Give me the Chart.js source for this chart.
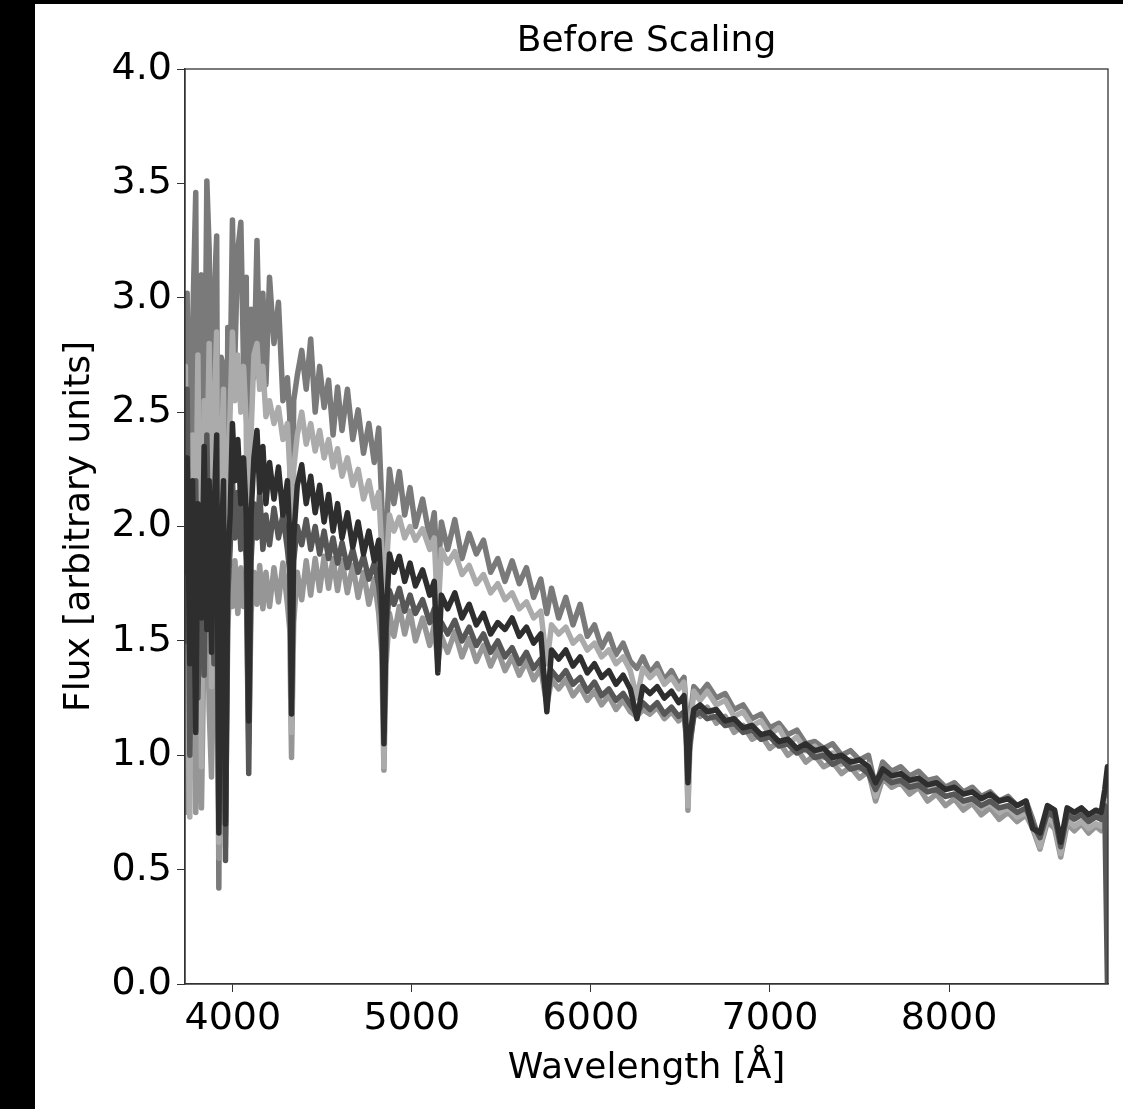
<!DOCTYPE html>
<html>
<head>
<meta charset="utf-8">
<script src="https://cdn.jsdelivr.net/npm/chart.js"></script>
<style>
  html, body { margin: 0; padding: 0; background: #000; }
  #frame { position: absolute; left: 35px; top: 4px; width: 1088px; height: 1105px; background: #fff; }
  canvas { display: block; }
</style>
</head>
<body>
<div id="frame"><canvas id="spectra" width="1088" height="1105"></canvas></div>
<script>
// wavelength grid (Angstrom), shared by all spectra
const wavelength = [
  3735, 3745, 3760, 3775, 3793, 3805, 3825, 3840, 3855, 3868,
  3881, 3895, 3910, 3922, 3935, 3948, 3959, 3972, 3985, 3998,
  4012, 4028, 4045, 4060, 4075, 4089, 4102, 4118, 4135, 4150,
  4168, 4185,
  4205, 4230, 4255, 4280, 4305, 4318, 4328, 4340, 4360, 4385,
  4410, 4435, 4460, 4485, 4510, 4535, 4560, 4585, 4610, 4640,
  4670, 4700, 4730, 4760, 4790, 4815, 4832, 4844, 4856, 4875,
  4900, 4930, 4960, 4990,
  5020, 5060, 5100, 5125, 5145, 5165, 5200, 5240, 5280, 5320,
  5360, 5400, 5440, 5480, 5520, 5560, 5600, 5640, 5680, 5720,
  5754, 5780, 5820, 5860, 5900, 5940, 5980, 6020, 6060, 6100,
  6140, 6180, 6220, 6257, 6290, 6330, 6370, 6410, 6450, 6490,
  6520,
  6532, 6542, 6552, 6575, 6610, 6650, 6700, 6750, 6800, 6850,
  6900, 6950, 7000, 7050, 7100, 7150, 7200, 7250, 7300, 7350,
  7400, 7450, 7500, 7550, 7590, 7630, 7680, 7730, 7780, 7830,
  7880, 7930, 7980, 8030, 8080, 8130, 8180, 8230, 8280, 8330,
  8380, 8430, 8467, 8508, 8550, 8590, 8624, 8660, 8700, 8740,
  8780, 8820, 8850, 8870, 8885
];

// spectrum 1 (mid grey, brightest in the blue)
const fluxA = [
  2.30, 3.02, 1.35, 2.85, 3.46, 1.55, 3.10, 2.20, 3.51, 3.21,
  1.70, 3.00, 3.27, 0.42, 2.74, 2.70, 0.95, 2.87, 2.60, 3.34,
  2.75, 3.21, 3.33, 2.70, 3.09, 1.40, 2.95, 2.65, 3.25, 2.70,
  3.02, 2.62,
  3.09, 2.80, 2.98, 2.55, 2.65, 2.48, 1.30, 2.55, 2.66, 2.77,
  2.60, 2.82, 2.50, 2.70, 2.52, 2.64, 2.40, 2.61, 2.42, 2.60,
  2.38, 2.51, 2.32, 2.45, 2.28, 2.43, 2.10, 1.05, 1.95, 2.25,
  2.10, 2.24, 2.05, 2.17,
  2.00, 2.12, 1.95, 2.06, 1.78, 2.02, 1.90, 2.03, 1.86, 1.97,
  1.88, 1.94, 1.80, 1.86, 1.76, 1.85, 1.75, 1.82, 1.69, 1.77,
  1.62, 1.73, 1.60, 1.69, 1.57, 1.66, 1.52, 1.57, 1.47, 1.53,
  1.44, 1.49, 1.41, 1.38, 1.43, 1.36, 1.40, 1.33, 1.37, 1.31,
  1.34,
  1.20, 0.85, 1.15, 1.30, 1.27, 1.31, 1.25, 1.27, 1.20, 1.22,
  1.16, 1.18, 1.12, 1.14, 1.09, 1.11, 1.05, 1.06, 1.03, 1.05,
  1.00, 1.02, 0.98, 1.00, 0.86, 0.97, 0.93, 0.95, 0.91, 0.93,
  0.89, 0.90, 0.86, 0.88, 0.84, 0.86, 0.82, 0.84, 0.80, 0.82,
  0.78, 0.80, 0.72, 0.62, 0.77, 0.74, 0.58, 0.76, 0.73, 0.75,
  0.72, 0.74, 0.72, 0.80, 0.90
];

// spectrum 2 (light grey)
const fluxB = [
  2.70, 1.30, 0.73, 2.40, 1.90, 2.75, 0.95, 2.55, 2.20, 2.80,
  1.30, 2.50, 2.85, 0.62, 2.30, 2.60, 0.60, 2.20, 2.50, 2.85,
  2.55, 2.75, 2.50, 2.70, 2.45, 1.10, 2.40, 2.75, 2.80, 2.60,
  2.70, 2.48,
  2.55, 2.45, 2.52, 2.38, 2.45, 2.25, 1.10, 2.25, 2.40, 2.50,
  2.36, 2.45, 2.33, 2.42, 2.30, 2.38, 2.26, 2.34, 2.22, 2.30,
  2.18, 2.25, 2.12, 2.20, 2.08, 2.15, 1.90, 0.95, 1.80, 2.05,
  1.98, 2.04, 1.95, 2.00,
  1.94, 1.99, 1.90, 1.95, 1.60, 1.90, 1.84, 1.89, 1.79, 1.83,
  1.75, 1.79, 1.71, 1.75, 1.68, 1.71, 1.64, 1.67, 1.60, 1.63,
  1.40, 1.57, 1.53, 1.56, 1.49, 1.52, 1.46, 1.49, 1.43, 1.46,
  1.40, 1.43, 1.37, 1.25, 1.38, 1.34, 1.37, 1.31, 1.34, 1.29,
  1.32,
  1.18, 0.78, 1.10, 1.28, 1.24, 1.28, 1.22, 1.24, 1.17, 1.19,
  1.13, 1.15, 1.09, 1.12, 1.05, 1.08, 1.02, 1.04, 0.99, 1.01,
  0.96, 0.98, 0.94, 0.96, 0.82, 0.93, 0.89, 0.91, 0.87, 0.88,
  0.84, 0.86, 0.82, 0.83, 0.79, 0.81, 0.77, 0.79, 0.75, 0.77,
  0.73, 0.75, 0.70, 0.60, 0.73, 0.70, 0.57, 0.72, 0.69, 0.71,
  0.68, 0.70, 0.69, 0.74, 0.80
];

// spectrum 3 (near black)
const fluxC = [
  1.80, 2.30, 1.40, 2.20, 1.10, 2.10, 1.60, 2.35, 1.55, 2.20,
  1.45, 2.05, 2.40, 0.66, 1.90, 2.20, 0.70, 1.85, 2.05, 2.45,
  2.20, 2.38, 2.10, 2.30, 2.05, 1.15, 2.05, 2.30, 2.42, 2.15,
  2.35, 2.10,
  2.28, 2.12, 2.26, 2.05, 2.20, 1.95, 1.18, 1.95, 2.18, 2.27,
  2.10, 2.22, 2.06, 2.18, 2.02, 2.14, 1.98, 2.10, 1.95, 2.06,
  1.91, 2.02, 1.88, 1.98, 1.85, 1.94, 1.70, 1.05, 1.60, 1.88,
  1.80, 1.87, 1.76, 1.84,
  1.74, 1.81, 1.70, 1.76, 1.36, 1.70, 1.64, 1.71, 1.60, 1.66,
  1.57, 1.62, 1.53, 1.58, 1.55, 1.60, 1.52, 1.56, 1.49, 1.53,
  1.19, 1.46, 1.42, 1.46, 1.39, 1.43, 1.36, 1.40, 1.34, 1.37,
  1.31, 1.35, 1.29, 1.16, 1.30, 1.27, 1.30, 1.25, 1.28, 1.23,
  1.26,
  1.12, 0.88, 1.08, 1.20, 1.22, 1.19, 1.20, 1.15, 1.16, 1.12,
  1.13, 1.09, 1.10, 1.06, 1.07, 1.03, 1.05, 1.02, 1.03, 0.99,
  1.00, 0.97, 0.98, 0.95, 0.88, 0.94, 0.91, 0.92, 0.89, 0.90,
  0.87, 0.88, 0.85, 0.86, 0.83, 0.84, 0.81, 0.83, 0.80, 0.81,
  0.78, 0.80, 0.68, 0.66, 0.78, 0.76, 0.62, 0.77, 0.75, 0.77,
  0.74, 0.76, 0.75, 0.85, 0.95
];

// spectrum 4 (dark grey)
const fluxD = [
  1.50, 2.60, 1.00, 1.80, 2.20, 1.25, 2.00, 1.35, 2.40, 1.70,
  1.95, 1.40, 2.10, 0.70, 1.65, 1.95, 0.54, 1.70, 1.90, 2.20,
  1.95, 2.15, 1.90, 2.10, 1.85, 0.92, 1.85, 2.10, 1.95, 2.15,
  1.90, 2.05,
  1.92, 2.08, 1.95, 2.05, 1.90, 1.80, 1.25, 1.85, 2.00, 1.92,
  2.03, 1.90, 2.00, 1.88, 1.98, 1.86, 1.95, 1.84, 1.93, 1.82,
  1.90, 1.80, 1.87, 1.77, 1.84, 1.74, 1.60, 1.10, 1.55, 1.72,
  1.66, 1.73, 1.63, 1.70,
  1.62, 1.68, 1.58, 1.64, 1.45, 1.58, 1.53, 1.59, 1.50, 1.56,
  1.48, 1.53, 1.45, 1.50, 1.43, 1.47, 1.40, 1.45, 1.38, 1.42,
  1.25, 1.37, 1.33, 1.37, 1.31, 1.34, 1.28, 1.32, 1.26, 1.29,
  1.24, 1.27, 1.22, 1.18, 1.23, 1.20, 1.23, 1.18, 1.21, 1.17,
  1.19,
  1.10, 0.90, 1.05, 1.17, 1.19, 1.16, 1.17, 1.13, 1.14, 1.10,
  1.11, 1.07, 1.08, 1.04, 1.05, 1.01, 1.03, 0.99, 1.00, 0.96,
  0.98, 0.94, 0.95, 0.92, 0.85, 0.91, 0.88, 0.89, 0.86, 0.87,
  0.84, 0.85, 0.82, 0.83, 0.80, 0.81, 0.78, 0.80, 0.77, 0.78,
  0.75, 0.77, 0.70, 0.64, 0.75, 0.73, 0.60, 0.74, 0.72, 0.74,
  0.71, 0.73, 0.72, 0.78, 0.00
];

// spectrum 5 (grey, flattest in the blue)
const fluxE = [
  0.75, 1.80, 0.90, 1.60, 0.75, 1.70, 0.77, 1.55, 1.85, 1.20,
  0.905, 1.50, 1.75, 0.55, 1.45, 1.70, 0.65, 1.55, 1.80, 1.65,
  1.85, 1.62, 1.82, 1.65, 1.80, 1.05, 1.62, 1.80, 1.66, 1.83,
  1.64, 1.80,
  1.65, 1.82, 1.67, 1.84, 1.66, 1.55, 0.99, 1.58, 1.80, 1.68,
  1.85, 1.70, 1.86, 1.72, 1.87, 1.73, 1.86, 1.72, 1.85, 1.71,
  1.83, 1.69, 1.80, 1.66, 1.77, 1.62, 1.45, 0.935, 1.40, 1.62,
  1.52, 1.65, 1.53, 1.63,
  1.50, 1.60, 1.48, 1.57, 1.40, 1.52, 1.45, 1.54, 1.43, 1.51,
  1.41, 1.48, 1.39, 1.46, 1.37, 1.43, 1.35, 1.41, 1.33, 1.38,
  1.22, 1.33, 1.29, 1.33, 1.26, 1.30, 1.24, 1.28, 1.22, 1.26,
  1.20, 1.24, 1.19, 1.17, 1.20, 1.18, 1.21, 1.16, 1.19, 1.15,
  1.18,
  1.08, 0.76, 1.02, 1.20, 1.17, 1.21, 1.14, 1.17, 1.10, 1.13,
  1.07, 1.09, 1.03, 1.06, 1.00, 1.03, 0.97, 1.00, 0.95, 0.97,
  0.92, 0.95, 0.90, 0.93, 0.80, 0.90, 0.86, 0.88, 0.83, 0.86,
  0.80, 0.83, 0.78, 0.81, 0.76, 0.79, 0.74, 0.77, 0.72, 0.75,
  0.71, 0.74, 0.68, 0.59, 0.71, 0.68, 0.555, 0.70, 0.67, 0.70,
  0.66, 0.69, 0.67, 0.72, 0.76
];

const xTicks = [4000, 5000, 6000, 7000, 8000];
const yTicks = [0, 0.5, 1, 1.5, 2, 2.5, 3, 3.5, 4];
const titleText = 'Before Scaling';

const FONT = 'DejaVu Sans';

function series(flux, color) {
  return {
    data: wavelength.map((w, i) => ({ x: w, y: flux[i] })),
    borderColor: color,
    borderWidth: 5.5,
    borderJoinStyle: 'round',
    borderCapStyle: 'round',
    pointRadius: 0,
    tension: 0,
    fill: false
  };
}

// spines on all four sides, title centred over the plot box
const boxPlugin = {
  id: 'box',
  afterDatasetsDraw(chart) {
    const { ctx, chartArea: a } = chart;
    ctx.save();
    ctx.strokeStyle = '#333';
    ctx.lineWidth = 1.3;
    ctx.strokeRect(a.left, a.top, a.right - a.left, a.bottom - a.top);
    ctx.fillStyle = '#000';
    ctx.font = '36px "' + FONT + '"';
    ctx.textAlign = 'center';
    ctx.textBaseline = 'alphabetic';
    ctx.fillText(titleText, (a.left + a.right) / 2, 47);
    ctx.restore();
  }
};

const ctx = document.getElementById('spectra').getContext('2d');
new Chart(ctx, {
  type: 'line',
  data: {
    // first dataset is drawn on top
    datasets: [
      series(fluxC, '#2e2e2e'),
      series(fluxD, '#575757'),
      series(fluxB, '#ababab'),
      series(fluxE, '#969696'),
      series(fluxA, '#7a7a7a')
    ]
  },
  options: {
    responsive: false,
    animation: false,
    devicePixelRatio: 1,
    layout: { padding: { left: 0, right: 15, top: 65, bottom: 0 } },
    plugins: {
      legend: { display: false },
      tooltip: { enabled: false },
      title: { display: false }
    },
    scales: {
      x: {
        type: 'linear',
        min: 3733,
        max: 8888,
        afterBuildTicks: s => { s.ticks = xTicks.map(v => ({ value: v })); },
        afterFit: s => { s.height = 125; },
        grid: { drawOnChartArea: false, tickLength: 8, tickColor: '#333' },
        border: { color: '#333', width: 1.3 },
        ticks: {
          color: '#000',
          font: { family: FONT, size: 38 },
          padding: 4,
          maxRotation: 0,
          autoSkip: false,
          callback: v => String(v)
        },
        title: {
          display: true,
          text: 'Wavelength [Å]',
          color: '#000',
          font: { family: FONT, size: 36 },
          padding: { top: 0, bottom: 19 }
        }
      },
      y: {
        type: 'linear',
        min: 0,
        max: 4,
        afterBuildTicks: s => { s.ticks = yTicks.map(v => ({ value: v })); },
        afterFit: s => { s.width = 150; },
        grid: { drawOnChartArea: false, tickLength: 8, tickColor: '#333' },
        border: { color: '#333', width: 1.3 },
        ticks: {
          color: '#000',
          font: { family: FONT, size: 38 },
          padding: 5,
          autoSkip: false,
          callback: v => v.toFixed(1)
        },
        title: {
          display: true,
          text: 'Flux [arbitrary units]',
          color: '#000',
          font: { family: FONT, size: 36 },
          padding: { top: 23, bottom: 0 }
        }
      }
    }
  },
  plugins: [boxPlugin]
});
</script>
</body>
</html>
